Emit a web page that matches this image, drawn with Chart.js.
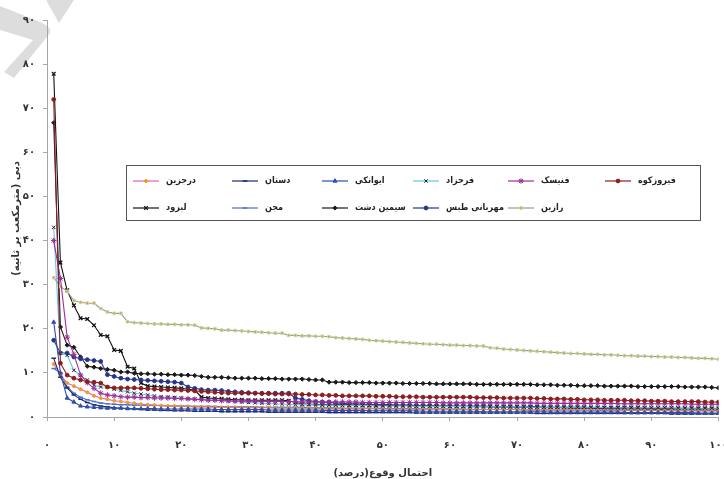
<!DOCTYPE html>
<html>
<head>
	<meta charset="utf-8">
	<title>منحنی تداوم جریان</title>
	<script src="https://cdn.jsdelivr.net/npm/chart.js"></script>
	<style>
		body { margin: 0; padding: 0; background: #fff; }
		#wrap { width: 724px; height: 479px; }
	</style>
</head>
<body>
	<div id="wrap"><canvas id="chart" width="724" height="479"></canvas></div>

	<script>
		// احتمال وقوع (درصد)
		var percent = [1,2,3,4,5,6,7,8,9,10,11,12,13,14,15,16,17,18,19,20,21,22,23,24,25,26,27,28,29,30,
			31,32,33,34,35,36,37,38,39,40,41,42,43,44,45,46,47,48,49,50,51,52,53,54,55,56,57,58,59,60,
			61,62,63,64,65,66,67,68,69,70,71,72,73,74,75,76,77,78,79,80,81,82,83,84,85,86,87,88,89,90,
			91,92,93,94,95,96,97,98,99,100];

		var stations = ['فیروزکوه', 'فنیسک', 'فرحزاد', 'ایوانکی', 'دستان', 'درجزین',
			'رازین', 'مهربانی طبس', 'سیمین دشت', 'مجن', 'لبرود'];

		// دبی (مترمکعب بر ثانیه)
		var firuzkuh = [72.0,12.2,9.5,8.8,8.4,8.0,7.9,7.7,6.8,6.6, 6.6,6.6,6.6,6.5,6.4,6.3,6.2,6.2,6.1,6.1,
			6.0,5.9,5.8,5.7,5.6,5.5,5.4,5.4,5.4,5.4, 5.4,5.3,5.3,5.2,5.2,5.2,5.2,5.1,5.1,5.0,
			5.0,4.9,4.9,4.8,4.8,4.8,4.8,4.8,4.7,4.7, 4.7,4.6,4.6,4.6,4.6,4.5,4.5,4.5,4.5,4.5,
			4.5,4.5,4.5,4.4,4.4,4.4,4.4,4.3,4.3,4.3, 4.3,4.3,4.2,4.2,4.1,4.1,4.1,4.0,4.0,3.9,
			3.9,3.9,3.8,3.8,3.8,3.8,3.7,3.7,3.7,3.6, 3.6,3.6,3.5,3.5,3.5,3.5,3.5,3.4,3.4,3.4];
		var fenisk = [40.0,31.4,18.1,14.2,9.5,7.8,6.5,5.4,5.0,4.8, 4.6,4.5,4.5,4.4,4.4,4.3,4.3,4.3,4.2,4.2,
			4.1,4.0,3.9,3.8,3.8,3.7,3.7,3.6,3.6,3.6, 3.6,3.5,3.5,3.5,3.5,3.5,3.5,3.4,3.4,3.4,
			3.4,3.4,3.4,3.4,3.4,3.4,3.3,3.3,3.3,3.3, 3.3,3.3,3.3,3.3,3.3,3.3,3.3,3.3,3.2,3.2,
			3.2,3.2,3.2,3.2,3.2,3.2,3.2,3.2,3.2,3.2, 3.2,3.2,3.1,3.1,3.1,3.1,3.1,3.1,3.1,3.1,
			3.1,3.1,3.1,3.1,3.0,3.0,3.0,3.0,3.0,3.0, 3.0,3.0,3.0,3.0,3.0,2.9,2.9,2.9,2.9,2.9];
		var farahzad = [43.0,14.5,14.0,10.6,9.4,8.4,7.2,6.8,6.8,6.3, 6.0,5.7,5.4,5.2,5.0,4.8,4.6,4.5,4.4,4.3,
			4.2,4.1,4.0,3.9,3.8,3.7,3.6,3.5,3.4,3.3, 3.2,3.1,3.0,3.0,2.9,2.9,2.8,2.8,2.8,2.7,
			2.7,2.7,2.7,2.6,2.6,2.6,2.6,2.6,2.5,2.5, 2.5,2.5,2.5,2.5,2.4,2.4,2.4,2.4,2.4,2.4,
			2.4,2.4,2.3,2.3,2.3,2.3,2.3,2.3,2.3,2.3, 2.3,2.2,2.2,2.2,2.2,2.2,2.2,2.2,2.2,2.2,
			2.2,2.2,2.1,2.1,2.1,2.1,2.1,2.1,2.1,2.1, 2.1,2.1,2.1,2.0,2.0,2.0,2.0,2.0,2.0,2.0];
		var eyvanaki = [21.5,10.0,4.3,3.4,2.5,2.3,2.2,2.1,2.0,2.0, 2.0,1.9,1.9,1.9,1.9,1.9,1.8,1.8,1.8,1.8,
			1.8,1.8,1.8,1.8,1.7,1.7,1.7,1.7,1.7,1.7, 1.7,1.7,1.6,1.6,1.6,1.6,1.6,1.6,1.6,1.6,
			1.5,1.5,1.5,1.5,1.5,1.5,1.5,1.4,1.4,1.4, 1.4,1.4,1.4,1.4,1.4,1.3,1.3,1.3,1.3,1.3,
			1.3,1.3,1.3,1.3,1.2,1.2,1.2,1.2,1.2,1.2, 1.2,1.2,1.2,1.2,1.1,1.1,1.1,1.1,1.1,1.1,
			1.1,1.1,1.1,1.1,1.1,1.0,1.0,1.0,1.0,1.0, 1.0,1.0,1.0,1.0,1.0,1.0,0.9,0.9,0.9,0.9];
		var dastan = [13.3,9.0,6.6,5.0,4.0,3.3,2.8,2.5,2.3,2.1, 2.0,1.9,1.8,1.7,1.6,1.6,1.5,1.5,1.4,1.4,
			1.4,1.3,1.3,1.3,1.3,1.2,1.2,1.2,1.2,1.2, 1.2,1.2,1.1,1.1,1.1,1.1,1.1,1.1,1.1,1.1,
			1.1,1.0,1.0,1.0,1.0,1.0,1.0,1.0,1.0,1.0, 1.0,1.0,1.0,1.0,0.9,0.9,0.9,0.9,0.9,0.9,
			0.9,0.9,0.9,0.9,0.9,0.9,0.9,0.9,0.9,0.9, 0.9,0.9,0.8,0.8,0.8,0.8,0.8,0.8,0.8,0.8,
			0.8,0.8,0.8,0.8,0.8,0.8,0.8,0.8,0.8,0.8, 0.8,0.8,0.7,0.7,0.7,0.7,0.7,0.7,0.7,0.7];
		var darjazin = [12.0,9.5,7.7,7.0,6.3,5.6,4.8,4.3,4.0,3.7, 3.5,3.3,3.1,2.9,2.8,2.7,2.6,2.5,2.5,2.4,
			2.4,2.3,2.3,2.3,2.2,2.2,2.2,2.2,2.1,2.1, 2.1,2.1,2.1,2.0,2.0,2.0,2.0,2.0,2.0,2.0,
			1.9,1.9,1.9,1.9,1.9,1.9,1.9,1.9,1.8,1.8, 1.8,1.8,1.8,1.8,1.8,1.8,1.8,1.8,1.8,1.7,
			1.7,1.7,1.7,1.7,1.7,1.7,1.7,1.7,1.7,1.7, 1.6,1.6,1.6,1.6,1.6,1.6,1.6,1.6,1.6,1.6,
			1.6,1.6,1.6,1.5,1.5,1.5,1.5,1.5,1.5,1.5, 1.5,1.5,1.5,1.5,1.5,1.4,1.4,1.4,1.4,1.4];
		var razin = [31.6,29.6,28.5,26.4,26.0,25.8,25.8,24.6,23.8,23.5, 23.5,21.6,21.4,21.3,21.2,21.1,21.1,21.0,21.0,20.9,
			20.9,20.8,20.2,20.1,20.0,19.7,19.7,19.6,19.5,19.4, 19.3,19.2,19.1,19.0,19.0,18.5,18.5,18.4,18.4,18.3,
			18.3,18.2,18.0,17.9,17.8,17.7,17.6,17.4,17.3,17.2, 17.1,17.0,16.9,16.8,16.7,16.6,16.5,16.5,16.4,16.3,
			16.3,16.2,16.2,16.1,16.1,15.7,15.6,15.4,15.3,15.2, 15.1,15.0,14.9,14.8,14.7,14.6,14.5,14.4,14.4,14.3,
			14.2,14.2,14.1,14.1,14.0,13.9,13.9,13.8,13.8,13.7, 13.7,13.6,13.6,13.5,13.5,13.4,13.3,13.3,13.2,13.1];
		var mehrabani = [17.4,14.5,14.5,13.6,13.2,13.0,12.8,12.6,9.6,9.2, 8.8,8.6,8.5,8.4,8.3,8.2,8.1,8.0,7.9,7.7,
			6.8,6.5,6.2,6.1,6.1,6.0,5.8,5.7,5.6,5.5, 5.4,5.4,5.4,5.4,5.4,5.4,4.3,4.0,3.7,3.5,
			3.4,3.3,3.2,3.1,3.0,3.0,2.9,2.9,2.8,2.8, 2.8,2.7,2.7,2.7,2.6,2.6,2.6,2.5,2.5,2.5,
			2.5,2.4,2.4,2.4,2.4,2.3,2.3,2.3,2.3,2.2, 2.2,2.2,2.2,2.1,2.1,2.1,2.1,2.0,2.0,2.0,
			2.0,1.9,1.9,1.9,1.9,1.8,1.8,1.8,1.8,1.7, 1.7,1.7,1.7,1.6,1.6,1.6,1.6,1.5,1.5,1.5];
		var siminDasht = [66.7,20.4,16.3,15.8,13.6,11.5,11.3,11.0,10.8,10.6, 10.2,10.2,9.9,9.8,9.8,9.7,9.7,9.6,9.6,9.5,
			9.5,9.4,9.2,9.0,9.0,9.0,8.9,8.8,8.8,8.8, 8.8,8.7,8.7,8.7,8.6,8.6,8.6,8.6,8.5,8.4,
			8.4,7.9,7.9,7.9,7.8,7.8,7.8,7.8,7.7,7.7, 7.7,7.7,7.6,7.6,7.6,7.6,7.6,7.5,7.5,7.5,
			7.5,7.5,7.5,7.4,7.4,7.4,7.4,7.4,7.4,7.4, 7.4,7.4,7.3,7.3,7.3,7.2,7.2,7.2,7.1,7.1,
			7.1,7.1,7.0,7.0,7.0,7.0,7.0,6.9,6.9,6.9, 6.9,6.9,6.9,6.9,6.8,6.8,6.8,6.8,6.7,6.6];
		var mojen = [11.0,10.0,6.8,5.4,4.5,3.9,3.5,3.2,3.0,2.9, 2.8,2.8,2.7,2.7,2.6,2.6,2.6,2.5,2.5,2.5,
			2.5,2.4,2.4,2.4,2.4,2.3,2.3,2.3,2.3,2.3, 2.3,2.2,2.2,2.2,2.2,2.2,2.2,2.2,2.1,2.1,
			2.1,2.1,2.1,2.0,2.0,2.0,2.0,2.0,2.0,1.9, 1.9,1.9,1.9,1.9,1.9,1.8,1.8,1.8,1.8,1.8,
			1.8,1.8,1.7,1.7,1.7,1.7,1.7,1.7,1.7,1.7, 1.6,1.6,1.6,1.6,1.6,1.6,1.6,1.6,1.6,1.6,
			1.5,1.5,1.5,1.5,1.5,1.5,1.5,1.5,1.5,1.5, 1.5,1.4,1.4,1.4,1.4,1.4,1.4,1.4,1.4,1.4];
		var labrud = [77.8,35.0,28.7,25.3,22.4,22.2,20.8,18.6,18.3,15.2, 15.0,11.4,11.0,7.7,7.0,6.9,6.8,6.7,6.6,6.5,
			6.3,6.1,4.5,4.3,4.2,4.1,4.0,3.9,3.9,3.8, 3.8,3.8,3.8,3.8,3.8,3.7,3.3,3.0,2.9,2.9,
			2.8,2.8,2.8,2.8,2.7,2.7,2.7,2.7,2.7,2.6, 2.6,2.6,2.6,2.6,2.5,2.5,2.5,2.5,2.5,2.5,
			2.4,2.4,2.4,2.4,2.4,2.4,2.3,2.3,2.3,2.3, 2.3,2.3,2.3,2.2,2.2,2.2,2.2,2.2,2.2,2.2,
			2.1,2.1,2.1,2.1,2.1,2.1,2.1,2.1,2.0,2.0, 2.0,2.0,2.0,2.0,2.0,2.0,1.9,1.9,1.9,1.9];

		var seriesValues = [firuzkuh, fenisk, farahzad, eyvanaki, dastan, darjazin,
			razin, mehrabani, siminDasht, mojen, labrud];

		// برچسب محورها (ارقام فارسی)
		var xTickLabels = ['۰','۱۰','۲۰','۳۰','۴۰','۵۰','۶۰','۷۰','۸۰','۹۰','۱۰۰'];
		var yTickLabels = ['۰','۱۰','۲۰','۳۰','۴۰','۵۰','۶۰','۷۰','۸۰','۹۰'];

		// ظاهر هر سری
		var seriesStyles = [
			{ line: '#8B1F1F', fill: '#8B1F1F', edge: '#8B1F1F', shape: 'circle',   r: 1.9, bw: 1 },
			{ line: '#9B2D9B', fill: '#9B2D9B', edge: '#9B2D9B', shape: 'star',     r: 2.8, bw: 1 },
			{ line: '#5CC9E2', fill: '#222222', edge: '#222222', shape: 'crossRot', r: 2.4, bw: 1 },
			{ line: '#2F4FA8', fill: '#2F4FA8', edge: '#2F4FA8', shape: 'triangle', r: 2.3, bw: 1 },
			{ line: '#1C2A6E', fill: '#1C2A6E', edge: '#1C2A6E', shape: 'line',     r: 2.3, bw: 1.5 },
			{ line: '#E060C0', fill: '#F39A1E', edge: '#F39A1E', shape: 'circle',   r: 1.5, bw: 1 },
			{ line: '#8E9E8E', fill: '#D9963A', edge: '#C6DDB0', shape: 'rect',     r: 1.9, bw: 1 },
			{ line: '#26348C', fill: '#26348C', edge: '#26348C', shape: 'circle',   r: 1.9, bw: 1 },
			{ line: '#1A1A1A', fill: '#1A1A1A', edge: '#1A1A1A', shape: 'rectRot',  r: 2.1, bw: 1 },
			{ line: '#4A72C8', fill: '#4A72C8', edge: '#4A72C8', shape: 'line',     r: 2.3, bw: 1.5 },
			{ line: '#111111', fill: '#111111', edge: '#111111', shape: 'crossRot', r: 2.6, bw: 1.3 }
		];

		var datasets = stations.map(function(name, i) {
			var s = seriesStyles[i];
			return {
				label: name,
				data: seriesValues[i].map(function(v, j) { return { x: percent[j], y: v }; }),
				borderColor: s.line,
				borderWidth: 1.1,
				pointStyle: s.shape,
				pointRadius: s.r,
				pointBackgroundColor: s.fill,
				pointBorderColor: s.edge,
				pointBorderWidth: s.bw,
				tension: 0
			};
		});

		// واترمارک خاکستری گوشه بالا
		var watermark = {
			id: 'watermark',
			beforeDraw: function(chart) {
				var ctx = chart.ctx;
				ctx.save();
				ctx.fillStyle = '#DDDDDD';
				ctx.beginPath();
				ctx.moveTo(0, 6); ctx.lineTo(40, 22); ctx.quadraticCurveTo(52, 27, 50, 33);
				ctx.lineTo(14, 78); ctx.lineTo(4, 72); ctx.lineTo(33, 40); ctx.lineTo(0, 30);
				ctx.closePath(); ctx.fill();
				ctx.beginPath();
				ctx.moveTo(46, 0); ctx.lineTo(74, 0); ctx.lineTo(59, 23);
				ctx.closePath(); ctx.fill();
				ctx.restore();
			}
		};

		// راهنما به صورت جدول (دو ردیف)
		var legendCols = [133, 232, 322, 413, 508, 605];
		var legendRows = [181, 208];
		var legendSlots = [[5,0],[4,0],[3,0],[2,0],[1,0],[0,0],[4,1],[3,1],[2,1],[1,1],[0,1]];

		var gridLegend = {
			id: 'gridLegend',
			afterDraw: function(chart) {
				var ctx = chart.ctx;
				ctx.save();
				ctx.fillStyle = '#fff';
				ctx.fillRect(126.5, 165.5, 574, 55);
				ctx.strokeStyle = '#555';
				ctx.lineWidth = 1;
				ctx.strokeRect(126.5, 165.5, 574, 55);
				ctx.font = 'bold 9px "DejaVu Sans Condensed", "DejaVu Sans", sans-serif';
				ctx.textBaseline = 'middle';
				ctx.textAlign = 'left';
				stations.forEach(function(name, i) {
					var s = seriesStyles[i];
					var x = legendCols[legendSlots[i][0]];
					var y = legendRows[legendSlots[i][1]];
					ctx.strokeStyle = s.line;
					ctx.lineWidth = 1.2;
					ctx.beginPath(); ctx.moveTo(x, y); ctx.lineTo(x + 26, y); ctx.stroke();
					ctx.fillStyle = s.fill;
					ctx.strokeStyle = s.edge;
					ctx.lineWidth = s.bw;
					if (Chart.helpers && Chart.helpers.drawPoint) {
						Chart.helpers.drawPoint(ctx, { pointStyle: s.shape, radius: s.r, rotation: 0, borderWidth: s.bw }, x + 13, y);
					}
					ctx.fillStyle = '#222';
					ctx.fillText(name, x + 33, y);
				});
				ctx.restore();
			}
		};

		Chart.defaults.font.family = '"DejaVu Sans", sans-serif';
		Chart.defaults.color = '#333';

		var ctx = document.getElementById('chart').getContext('2d');
		var chart = new Chart(ctx, {
			type: 'line',
			data: { datasets: datasets },
			options: {
				responsive: false,
				animation: false,
				layout: { padding: { left: 0, right: 4, top: 20, bottom: 0 } },
				plugins: {
					legend: { display: false },
					tooltip: { enabled: false }
				},
				scales: {
					x: {
						type: 'linear',
						min: 0,
						max: 100,
						ticks: {
							stepSize: 10,
							padding: 18,
							maxRotation: 0,
							font: { size: 10, weight: 'bold' },
							callback: function(v) { return xTickLabels[Math.round(v / 10)]; }
						},
						grid: { display: true, drawOnChartArea: false, drawTicks: true, tickLength: 4, color: '#A6A6A6' },
						border: { color: '#A6A6A6', width: 1 },
						title: {
							display: true,
							text: 'احتمال وقوع(درصد)',
							font: { size: 10, weight: 'bold' },
							padding: { top: 0, bottom: 0 }
						},
						afterFit: function(s) { s.height = 62; s.paddingRight = 0; s.paddingLeft = 0; }
					},
					y: {
						min: 0,
						max: 90,
						ticks: {
							stepSize: 10,
							padding: 8,
							font: { size: 10, weight: 'bold' },
							callback: function(v) { return yTickLabels[Math.round(v / 10)]; }
						},
						grid: { display: true, drawOnChartArea: false, drawTicks: true, tickLength: 4, color: '#A6A6A6' },
						border: { color: '#A6A6A6', width: 1 },
						title: {
							display: true,
							text: 'دبی (مترمکعب بر ثانیه)',
							font: { size: 10, weight: 'bold' },
							padding: { top: 10, bottom: 0 }
						},
						afterFit: function(s) { s.width = 47; }
					}
				}
			},
			plugins: [watermark, gridLegend]
		});
	</script>
</body>
</html>
